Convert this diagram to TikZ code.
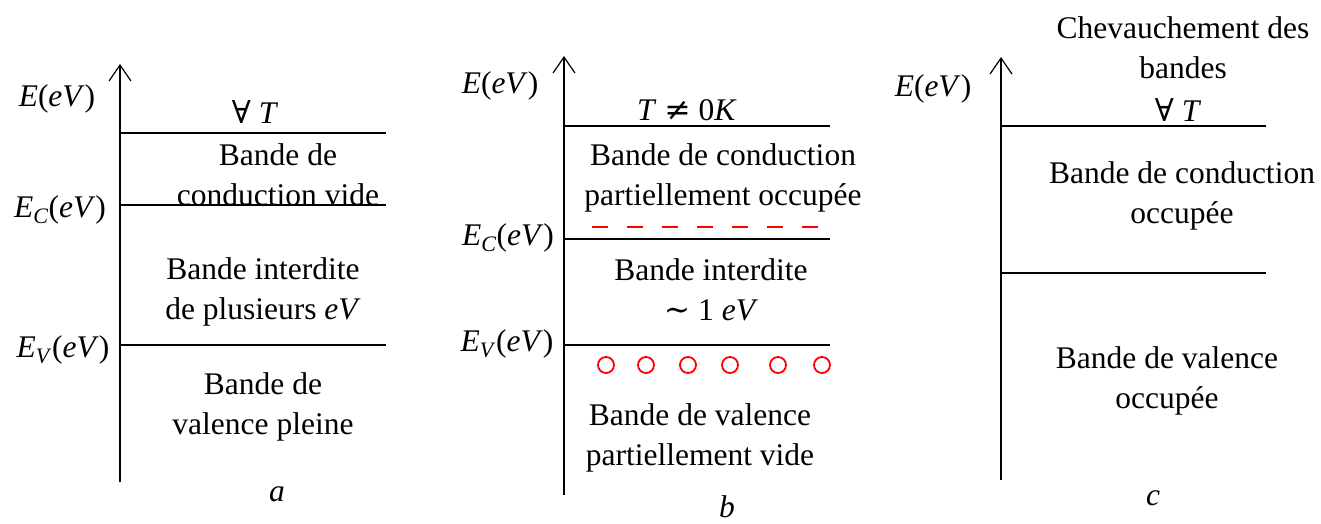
\documentclass[tikz,border=0pt]{standalone}
\usepackage{fontspec}
\setmainfont{LiberationSerif}[Extension=.ttf,UprightFont=*-Regular,ItalicFont=*-Italic,BoldFont=*-Bold,BoldItalicFont=*-BoldItalic]
\newfontfamily\symf{DejaVu Serif}
\newcommand{\vi}[1]{\textit{#1}}
\newcommand{\ev}{\textit{eV}}
\usetikzlibrary{arrows.meta}
\begin{document}
\begin{tikzpicture}[x=1pt,y=-1pt,
  every node/.style={font=\fontsize{31.5}{40}\selectfont, inner sep=0pt, align=center},
  axis/.style={line width=1.2pt, -{Straight Barb[length=16pt,width=22pt,line width=1.2pt]}},
  level/.style={line width=1.2pt},
  hole/.style={circle, draw=red, line width=1.8pt, minimum size=16pt, inner sep=0pt},
  elec/.style={draw=red, line width=1.6pt, dash pattern=on 16pt off 19pt}]
\useasboundingbox (0,0) rectangle (1321,524);
% ---------- panel a
\coordinate (a0) at (120,482);
\coordinate (a1) at (120,64);
\draw[axis] (a0) -- (a1);
\coordinate (aT1) at (120,133); \coordinate (aT2) at (386,133);
\coordinate (aC1) at (120,205); \coordinate (aC2) at (386,205);
\coordinate (aV1) at (120,345); \coordinate (aV2) at (386,345);
\draw[level] (aT1) -- (aT2);
\draw[level] (aC1) -- (aC2);
\draw[level] (aV1) -- (aV2);
\node (aE) at (57,99) {\vi{E}(\ev)};
\node (aEC) at (60,210) {\vi{E}\textsubscript{\vi{C}}(\ev)};
\node (aEV) at (63,350) {\vi{E}\textsubscript{\vi{V}}(\ev)};
\node (aT) at (255,112) {{\symf ∀} \vi{T}};
\node (acb) at (278,175) {Bande de\\conduction vide};
\node (agap) at (263,292) {Bande interdite\\de plusieurs \ev};
\node (avb) at (263,407) {Bande de\\valence pleine};
\node (alab) at (277,494) {\vi{a}};
% ---------- panel b
\coordinate (b0) at (564,495);
\coordinate (b1) at (564,56);
\draw[axis] (b0) -- (b1);
\coordinate (bT1) at (564,126); \coordinate (bT2) at (830,126);
\coordinate (bC1) at (564,239); \coordinate (bC2) at (830,239);
\coordinate (bV1) at (564,345); \coordinate (bV2) at (830,345);
\draw[level] (bT1) -- (bT2);
\draw[level] (bC1) -- (bC2);
\draw[level] (bV1) -- (bV2);
\coordinate (bd1) at (592,227); \coordinate (bd2) at (820,227);
\draw[elec] (bd1) -- (bd2);
\node[hole] (h1) at (606,365) {};
\node[hole] (h2) at (646,365) {};
\node[hole] (h3) at (688,365) {};
\node[hole] (h4) at (730,365) {};
\node[hole] (h5) at (778,365) {};
\node[hole] (h6) at (822,365) {};
\node (bE) at (500,86) {\vi{E}(\ev)};
\node (bEC) at (508,238) {\vi{E}\textsubscript{\vi{C}}(\ev)};
\node (bEV) at (507,344) {\vi{E}\textsubscript{\vi{V}}(\ev)};
\node (bT) at (687,110) {\vi{T} {\symf ≠} 0\vi{K}};
\node (bcb) at (723,178) {Bande de conduction\\partiellement occupée};
\node (bgap) at (711,290) {Bande interdite\\{\symf ∼} 1 \ev};
\node (bvb) at (700,438) {Bande de valence\\partiellement vide};
\node (blab) at (727,507) {\vi{b}};
% ---------- panel c
\coordinate (c0) at (1001,480);
\coordinate (c1) at (1001,57);
\draw[axis] (c0) -- (c1);
\coordinate (cT1) at (1001,126); \coordinate (cT2) at (1266,126);
\coordinate (cM1) at (1001,273); \coordinate (cM2) at (1266,273);
\draw[level] (cT1) -- (cT2);
\draw[level] (cM1) -- (cM2);
\node (cE) at (933,89) {\vi{E}(\ev)};
\node (chev) at (1183,48) {Chevauchement des\\bandes};
\node (cT) at (1178,110) {{\symf ∀} \vi{T}};
\node (ccb) at (1182,196) {Bande de conduction\\occupée};
\node (cvb) at (1167,381) {Bande de valence\\occupée};
\node (clab) at (1153,498) {\vi{c}};
\end{tikzpicture}
\end{document}
